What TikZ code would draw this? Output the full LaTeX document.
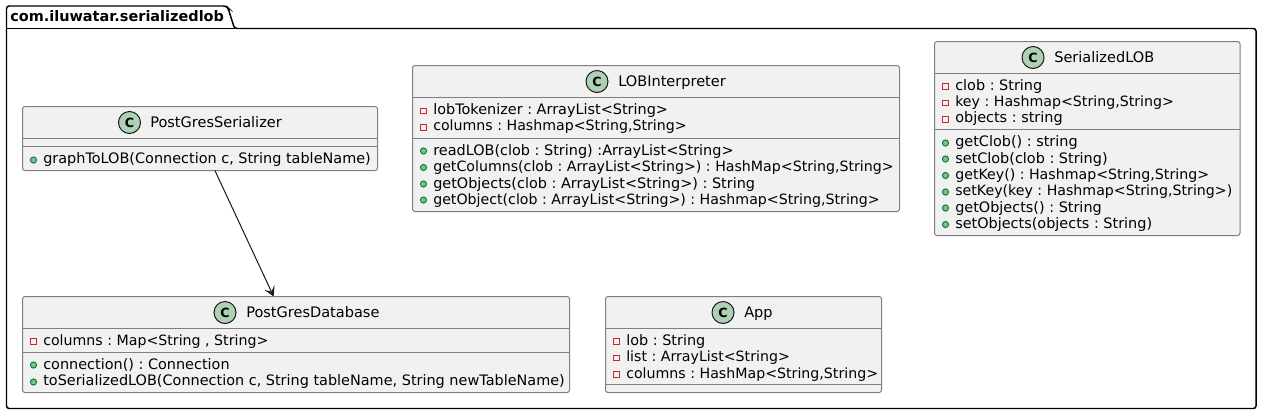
\documentclass[tikz,border=0pt]{standalone}
\usepackage{fontspec}
\setmainfont{DejaVu Sans}
\frenchspacing
\usetikzlibrary{arrows.meta}
\definecolor{boxfill}{HTML}{F1F1F1}
\definecolor{boxline}{HTML}{7F7F7F}
\definecolor{badge}{HTML}{ADD1B2}
\definecolor{privred}{HTML}{C82930}
\definecolor{pubgreen}{HTML}{84BE84}
\definecolor{publine}{HTML}{038048}
\tikzset{
    classbox/.style={draw=boxline,fill=boxfill,line width=.75pt,rounded corners=1.9pt,inner sep=0pt,outer sep=0pt},
    sepline/.style={draw=boxline,line width=.75pt},
    badgenode/.style={circle,draw=black!90,fill=badge,line width=.75pt,minimum size=16.5pt,inner sep=0pt,font=\bfseries\fontsize{9.5}{10}\selectfont},
    titletext/.style={anchor=base west,inner sep=0pt,font=\fontsize{10.9}{11}\selectfont},
    member/.style={anchor=base west,inner sep=0pt,font=\fontsize{10.82}{11}\selectfont},
    membertight/.style={anchor=base west,inner sep=0pt,font=\fontsize{10.63}{11}\selectfont},
    privicon/.style={draw=privred,line width=.75pt,minimum size=4.4pt,inner sep=0pt},
    pubicon/.style={circle,draw=publine,fill=pubgreen,line width=.75pt,minimum size=4.6pt,inner sep=0pt},
}
\begin{document}
\begin{tikzpicture}[x=.75pt,y=-.75pt]
    \useasboundingbox (0,0) rectangle (1262,415);
    % package
    \draw[line width=1.1pt,rounded corners=2pt] (6.5,28.5) -- (6.5,6) -- (226,6) -- (228,8) -- (234.5,28.5) -- (1256,28.5) -- (1256,408.5) -- (6.5,408.5) -- cycle;
    \draw[line width=1.1pt] (6.5,28.5) -- (234.5,28.5);
    \node[anchor=base west,inner sep=0pt,font=\bfseries\fontsize{10.85}{11}\selectfont] (pkgname) at (10,21) {com.iluwatar.serializedlob};

    % PostGresSerializer
    \node[classbox,minimum width=266.25pt,minimum height=48pt] (serializer) at (200,138.5) {};
    \draw[sepline] (22.5,138.5) -- (377.5,138.5);
    \draw[sepline] (22.5,146.5) -- (377.5,146.5);
    \node[badgenode] (serializerC) at (129.5,122.5) {C};
    \node[titletext] (serializerT) at (150,127.3) {PostGresSerializer};
    \node[pubicon] (serializerI1) at (33.5,160) {};
    \node[member] (serializerM1) at (43,163) {graphToLOB(Connection c, String tableName)};

    % LOBInterpreter
    \node[classbox,minimum width=365.25pt,minimum height=109.5pt] (interpreter) at (656,138.5) {};
    \draw[sepline] (412.5,97.5) -- (899.5,97.5);
    \draw[sepline] (412.5,138.5) -- (899.5,138.5);
    \node[badgenode] (interpreterC) at (597,81.5) {C};
    \node[titletext] (interpreterT) at (618,86.5) {LOBInterpreter};
    \node[privicon] (interpreterI1) at (423.5,111) {};
    \node[member] (interpreterM1) at (433,114) {lobTokenizer : ArrayList<String>};
    \node[privicon] (interpreterI2) at (423.5,127.5) {};
    \node[membertight] (interpreterM2) at (433,130.5) {columns : Hashmap<String,String>};
    \node[pubicon] (interpreterI3) at (423.5,151) {};
    \node[member] (interpreterM3) at (433,155) {readLOB(clob : String) :ArrayList<String>};
    \node[pubicon] (interpreterI4) at (423.5,167.5) {};
    \node[membertight] (interpreterM4) at (433,171.5) {getColumns(clob : ArrayList<String>) : HashMap<String,String>};
    \node[pubicon] (interpreterI5) at (423.5,184) {};
    \node[member] (interpreterM5) at (433,188) {getObjects(clob : ArrayList<String>) : String};
    \node[pubicon] (interpreterI6) at (423.5,200) {};
    \node[membertight] (interpreterM6) at (433,204) {getObject(clob : ArrayList<String>) : Hashmap<String,String>};

    % SerializedLOB
    \node[classbox,minimum width=229.125pt,minimum height=145.5pt] (serialized) at (1087.25,138.5) {};
    \draw[sepline] (934.5,73.5) -- (1240,73.5);
    \draw[sepline] (934.5,129.5) -- (1240,129.5);
    \node[badgenode] (serializedC) at (1033,57.5) {C};
    \node[titletext] (serializedT) at (1054,62.5) {SerializedLOB};
    \node[privicon] (serializedI1) at (945.5,86.5) {};
    \node[member] (serializedM1) at (955,90) {clob : String};
    \node[privicon] (serializedI2) at (945.5,103) {};
    \node[membertight] (serializedM2) at (955,106) {key : Hashmap<String,String>};
    \node[privicon] (serializedI3) at (945.5,119.5) {};
    \node[member] (serializedM3) at (955,122.5) {objects : string};
    \node[pubicon] (serializedI4) at (945.5,143) {};
    \node[member] (serializedM4) at (955,146.5) {getClob() : string};
    \node[pubicon] (serializedI5) at (945.5,159) {};
    \node[member] (serializedM5) at (955,163) {setClob(clob : String)};
    \node[pubicon] (serializedI6) at (945.5,175.5) {};
    \node[membertight] (serializedM6) at (955,179) {getKey() : Hashmap<String,String>};
    \node[pubicon] (serializedI7) at (945.5,192) {};
    \node[membertight] (serializedM7) at (955,195.5) {setKey(key : Hashmap<String,String>)};
    \node[pubicon] (serializedI8) at (945.5,208) {};
    \node[member] (serializedM8) at (955,212) {getObjects() : String};
    \node[pubicon] (serializedI9) at (945.5,224.5) {};
    \node[member] (serializedM9) at (955,228) {setObjects(objects : String)};

    % PostGresDatabase
    \node[classbox,minimum width=410.25pt,minimum height=72pt] (database) at (296,344.5) {};
    \draw[sepline] (22.5,328.5) -- (569.5,328.5);
    \draw[sepline] (22.5,352.5) -- (569.5,352.5);
    \node[badgenode] (databaseC) at (225,312.5) {C};
    \node[titletext] (databaseT) at (246,317.5) {PostGresDatabase};
    \node[privicon] (databaseI1) at (33.5,341.5) {};
    \node[membertight] (databaseM1) at (43,345) {columns : Map<String , String>};
    \node[pubicon] (databaseI2) at (33.5,365) {};
    \node[member] (databaseM2) at (43,369) {connection() : Connection};
    \node[pubicon] (databaseI3) at (33.5,382) {};
    \node[member] (databaseM3) at (43,385.5) {toSerializedLOB(Connection c, String tableName, String newTableName)};

    % App
    \node[classbox,minimum width=207pt,minimum height=72pt] (app) at (743.5,344.5) {};
    \draw[sepline] (605.5,328.5) -- (881.5,328.5);
    \draw[sepline] (605.5,384.5) -- (881.5,384.5);
    \node[badgenode] (appC) at (723,312.5) {C};
    \node[titletext] (appT) at (744,317.5) {App};
    \node[privicon] (appI1) at (616.5,341.5) {};
    \node[member] (appM1) at (626,345) {lob : String};
    \node[privicon] (appI2) at (616.5,358) {};
    \node[membertight] (appM2) at (626,361) {list : ArrayList<String>};
    \node[privicon] (appI3) at (616.5,374.5) {};
    \node[membertight] (appM3) at (626,378) {columns : HashMap<String,String>};

    \draw[-{Stealth[length=7.5pt,width=8.5pt,inset=3.5pt]},line width=.75pt,black!90] (serializer) -- (database);
\end{tikzpicture}
\end{document}
